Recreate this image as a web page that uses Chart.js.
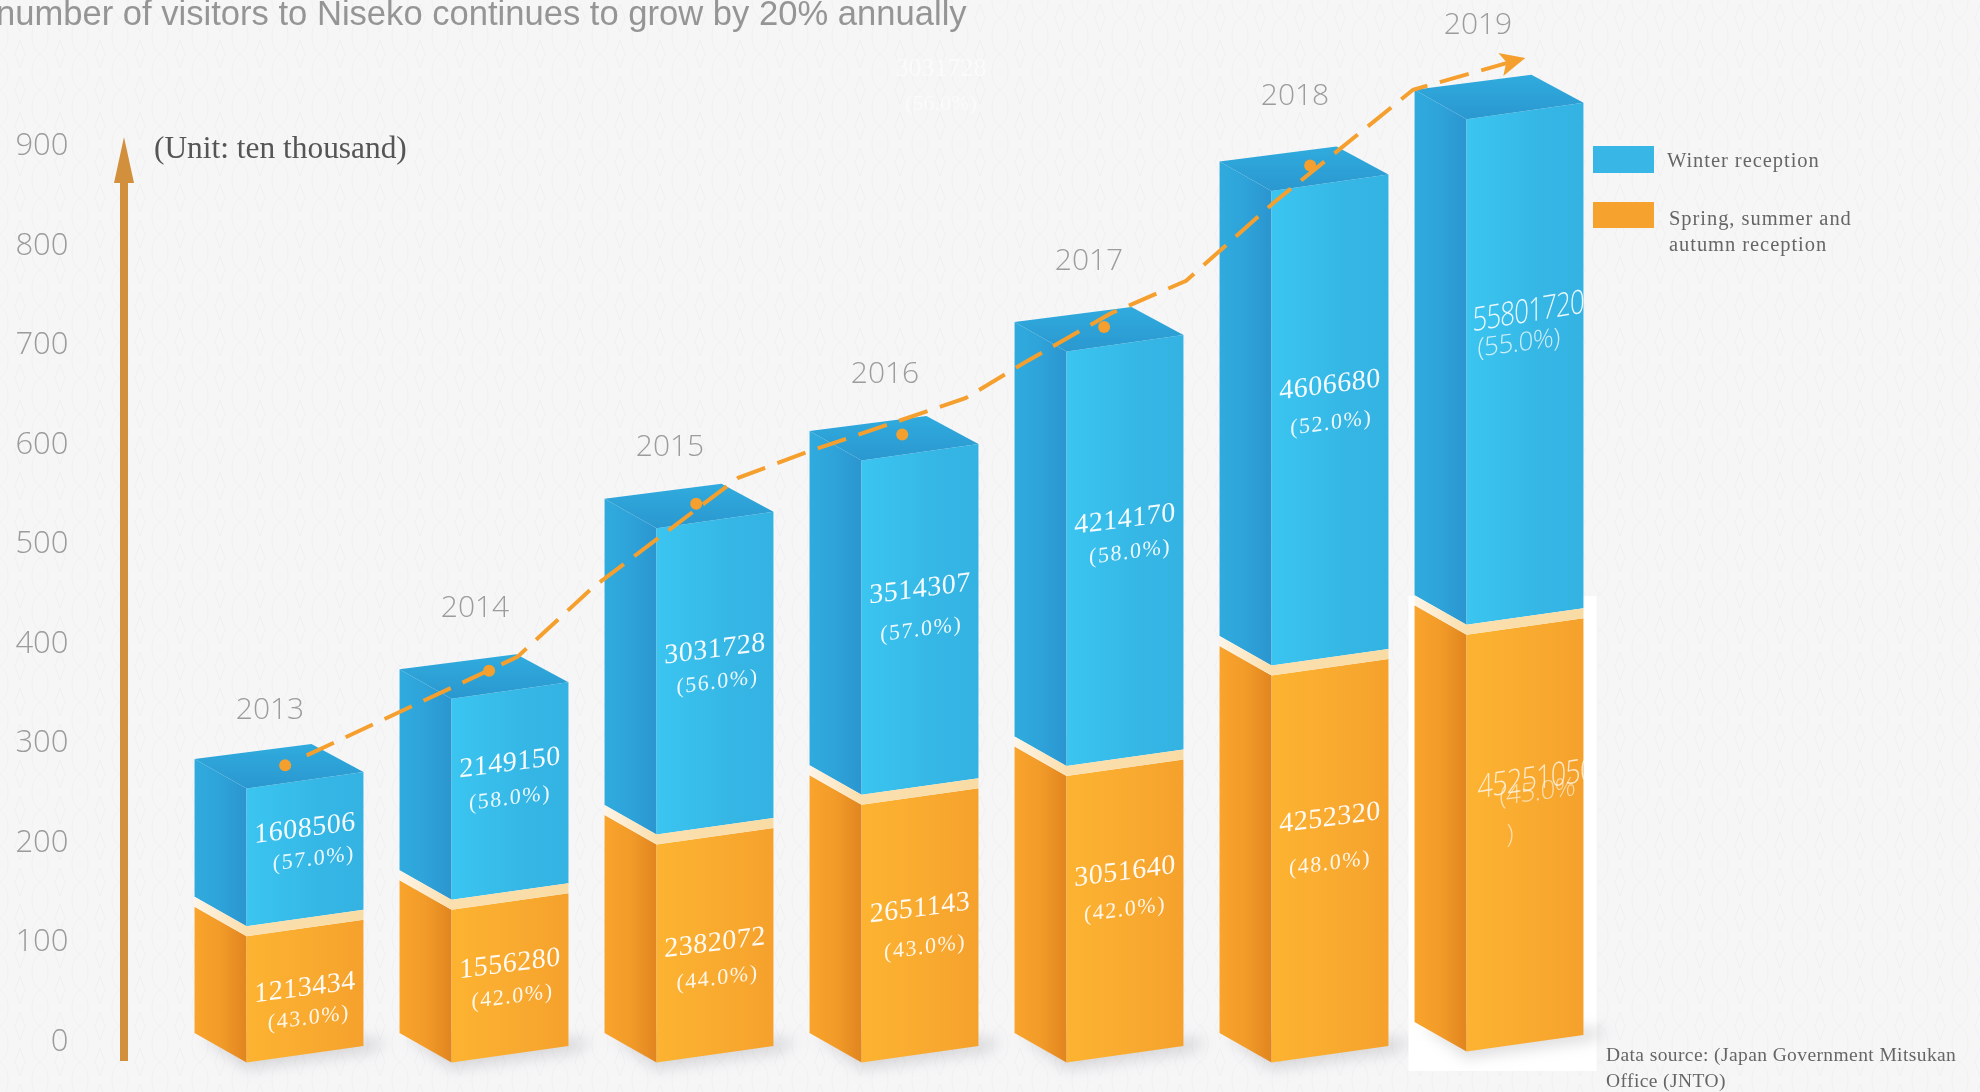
<!DOCTYPE html>
<html><head><meta charset="utf-8">
<style>
html,body{margin:0;padding:0;width:1980px;height:1092px;overflow:hidden;background-color:#f6f6f7;
background-image:url("data:image/svg+xml,%3Csvg xmlns='http://www.w3.org/2000/svg' width='40' height='36'%3E%3Cpath d='M20 4l5 14-5 14-5-14zM0 18c6-4 8-10 8-18M40 18c-6-4-8-10-8-18M0 18c6 4 8 10 8 18M40 18c-6 4-8 10-8 18' fill='none' stroke='%23f0f0f2' stroke-width='1'/%3E%3C/svg%3E");}
canvas{display:block}
</style>
<script src="https://cdn.jsdelivr.net/npm/chart.js@4/dist/chart.umd.js"></script>
</head><body><canvas id="c" width="1980" height="1092"></canvas>
<script>
// ---- data ----
const years = ['2013','2014','2015','2016','2017','2018','2019'];
const yTicksShown = [0,100,200,300,400,500,600,700,800,900];
// drawn block heights on the y axis (ten thousand)
const springHeights = [132,158.6,224,264,293,394,435];
const winterHeights = [148.5,212,318,346,426.5,487,518];
// printed labels
const springLabels = ['1213434','1556280','2382072','2651143','3051640','4252320','45251050'];
const winterLabels = ['1608506','2149150','3031728','3514307','4214170','4606680','55801720'];
const springShares = [43,42,44,43,42,48,45];
const winterShares = [57,58,56,57,58,52,55];
// trend arrow
const trendYears = [2013.135,2014.163,2014.532,2015.24,2015.578,2016.348,2016.655,2017.055,2017.425,2017.855,2018.532,2019.06];
const trendValues = [284,383,453,563,589,643,681,728,761,840,953,984];
const dotYears = [2013.03,2014.025,2015.035,2016.04,2017.025,2018.03];
const dotValues = [274,369,537,606.6,714.5,877];

const titleText = 'number of visitors to Niseko continues to grow by 20% annually';
const unitText = '(Unit: ten thousand)';
const legendWinter = 'Winter reception';
const legendSpring = ['Spring, summer and','autumn reception'];
const sourceLines = ['Data source: (Japan Government Mitsukan','Office (JNTO)'];

// ---- layout constants (pixels), separate from the data ----
const K = 1.2628;
const GEO = {foldDx:52, foldDy:29.5, rightDy:13, backDy:-15, winterLift:10, springLift:5, lastLift:16, lastShift:-10};
const yearNudge = [[-9,-48],[-9,-61],[-19,-51],[-9,-57],[-10,-61],[-9,-65],[-21,-64]];
const winterNumDy = [54,73,118,124,155,176,179].map(v=>v*K+2);
const winterPctDy = [78,101,144,156,181,206,203].map(v=>v*K+2);
const winterPctDx = [7,0,2,1,4,1,-4].map(v=>v*K);
const springNumDy = [63,65,100,104,98,135,144].map(v=>v*K+2);
const springPctDy = [87,91,128,135,128,171,154].map(v=>v*K+2);
const springPctDx = [3,2,2,4,0,0,10].map(v=>v*K);

function geom(el, idx){
  const p = el.getProps(['x','y','base','width'], true);
  const last = idx === years.length-1;
  const l = p.x - p.width/2 + (last?GEO.lastShift:0);
  return {l, f:l+GEO.foldDx, r:l+p.width, cx:p.x+(last?GEO.lastShift:0), y:p.y, base:p.base, last};
}
function hGrad(ctx,x0,x1,stops){const g=ctx.createLinearGradient(x0,0,x1,0);stops.forEach(s=>g.addColorStop(s[0],s[1]));return g;}
function poly(ctx,pts,fill){ctx.beginPath();pts.forEach((q,i)=>i?ctx.lineTo(q[0],q[1]):ctx.moveTo(q[0],q[1]));ctx.closePath();ctx.fillStyle=fill;ctx.fill();}
const springBottom = g => g.base - (g.last?GEO.lastLift:GEO.springLift);

// the library's bar element draws itself as a cuboid
Chart.BarElement.prototype.draw = function(ctx){
  const winter = this.$barKind === 'winter';
  const g = geom(this, this.$barIndex);
  const D = GEO;
  const top = g.y;
  const bot = winter ? g.base - D.winterLift : springBottom(g);
  ctx.save();
  const left = winter ? [[0,'#30abde'],[.5,'#2ea3d9'],[1,'#2b95cf']] : [[0,'#f9a42c'],[.5,'#f29b29'],[1,'#e1851f']];
  const front = winter ? [[0,'#3bc5f1'],[.35,'#38bdea'],[.65,'#35b6e5'],[1,'#34b3e3']] : [[0,'#fdb331'],[.5,'#f9ab30'],[1,'#f5a12c']];
  poly(ctx,[[g.l,top],[g.f,top+D.foldDy],[g.f,bot+D.foldDy],[g.l,bot]],hGrad(ctx,g.l,g.f,left));
  poly(ctx,[[g.f,top+D.foldDy],[g.r,top+D.rightDy],[g.r,bot+D.rightDy],[g.f,bot+D.foldDy]],hGrad(ctx,g.f,g.r,front));
  if(winter){
    const tg=ctx.createLinearGradient(0,top+D.backDy,0,top+D.foldDy);
    tg.addColorStop(0,'#30abde');tg.addColorStop(1,'#2a98d0');
    poly(ctx,[[g.l,top],[g.l+(g.r-g.f),top+D.backDy],[g.r,top+D.rightDy],[g.f,top+D.foldDy]],tg);
  }else{
    // only the cream band that shows between the two blocks
    const L=D.winterLift;
    poly(ctx,[[g.l,top],[g.f,top+D.foldDy],[g.r,top+D.rightDy],[g.r,top+D.rightDy-L],[g.f,top+D.foldDy-L],[g.l,top-L]],
      hGrad(ctx,g.l,g.r,[[0,'#fdf5e8'],[.3,'#fbdfae'],[1,'#f9dca4']]));
  }
  ctx.restore();
};

const overlay = {
  id:'overlay',
  beforeDatasetsDraw(chart){
    const {ctx}=chart, D=GEO;
    chart.data.datasets.forEach((ds,di)=>{
      if(!ds.kind) return;
      chart.getDatasetMeta(di).data.forEach((el,i)=>{el.$barIndex=i;el.$barKind=ds.kind;});
    });
    // white patch behind the last bar and soft ground shadows
    const sm=chart.getDatasetMeta(0);
    sm.data.forEach((el,i)=>{
      const g=geom(el,i), bot=springBottom(g);
      if(g.last){ctx.fillStyle='#ffffff';ctx.fillRect(g.l-6,596,188,475);}
      ctx.save();ctx.filter='blur(7px)';
      poly(ctx,[[g.l+8,bot+4],[g.f,bot+D.foldDy+7],[g.r+8,bot+D.rightDy+6],[g.r+24,bot+D.rightDy-6],[g.f+20,bot]],'rgba(110,110,120,.22)');
      ctx.restore();
    });
  },
  afterDatasetsDraw(chart){
    const {ctx,scales} = chart;
    const springMeta = chart.getDatasetMeta(0), winterMeta = chart.getDatasetMeta(1);
    ctx.save();
    ctx.textBaseline='middle';
    // title
    ctx.textAlign='left';ctx.fillStyle='#959595';ctx.font='34.6px "Liberation Sans"';
    ctx.textBaseline='alphabetic';ctx.fillText(titleText,-4,25);
    ctx.textBaseline='middle';
    // y axis arrow
    const ax=124, ayTop=137, ayBot=scales.y.getPixelForValue(0)+23;
    ctx.fillStyle='#d2903c';ctx.fillRect(ax-4,ayTop+40,8,ayBot-ayTop-40);
    poly(ctx,[[ax,ayTop],[ax+10,ayTop+46],[ax-10,ayTop+46]],'#d2903c');
    // unit
    ctx.fillStyle='#555';ctx.font='31.4px "Liberation Serif"';ctx.fillText(unitText,154,150);
    // trend arrow head at the last trend point
    const n=trendYears.length-1;
    const tx=scales.xTrend.getPixelForValue(trendYears[n]),ty=scales.y.getPixelForValue(trendValues[n]);
    poly(ctx,[[tx+4,ty-1],[tx-23,ty-6],[tx-15,ty+3],[tx-18,ty+17]],'#f5a02e');
    // year labels
    ctx.textAlign='center';ctx.fillStyle='#9c9c9c';ctx.font='300 30px "Open Sans"';
    years.forEach((yr,i)=>{const g=geom(winterMeta.data[i],i);ctx.fillText(yr,g.cx+yearNudge[i][0],g.y+yearNudge[i][1]);});
    // value labels on the front faces
    const put=(txt,x,y,font,ls,alpha,sx=1)=>{ctx.save();ctx.font=font;ctx.letterSpacing=ls;ctx.fillStyle='rgba(255,255,255,'+alpha+')';ctx.transform(sx,-0.13,0,1,x,y);ctx.fillText(txt,0,0);ctx.restore();};
    years.forEach((yr,i)=>{
      const gw=geom(winterMeta.data[i],i), gs=geom(springMeta.data[i],i);
      const fc=gw.f+(gw.r-gw.f)/2;
      const numFont='28px "Liberation Serif"', pctFont='22px "Liberation Serif"';
      if(!gw.last){
        put(winterLabels[i],fc,gw.y+winterNumDy[i],numFont,'0.5px',.95);
        put('('+winterShares[i].toFixed(1)+'%)',fc+winterPctDx[i],gw.y+winterPctDy[i],pctFont,'1.5px',.9);
        put(springLabels[i],fc,gs.y+springNumDy[i],numFont,'0.5px',.95);
        put('('+springShares[i].toFixed(1)+'%)',fc+springPctDx[i],gs.y+springPctDy[i],pctFont,'1.5px',.9);
      }else{
        ctx.save();ctx.beginPath();ctx.rect(gw.f,0,gw.r-gw.f+2,1092);ctx.clip();
        const sans='300 33px "Open Sans"', sans2='300 26px "Open Sans"';
        ctx.textAlign='left';
        put(winterLabels[i],gw.f+6,gw.y+winterNumDy[i]+4,sans,'-1px',.9,0.78);
        put('('+winterShares[i].toFixed(1)+'%)',gw.f+11,gw.y+winterPctDy[i]+1,sans2,'-0.5px',.75);
        put(springLabels[i],gw.f+11,gs.y+springNumDy[i],sans,'-1px',.75,0.82);
        put('('+springShares[i].toFixed(1)+'%',gw.f+33,gs.y+springPctDy[i]-4,sans2,'-0.5px',.6);
        put(')',gw.f+40,gs.y+springPctDy[i]+34,sans2,'0px',.6);
        ctx.restore();
        ctx.textAlign='center';
      }
    });
    // faint ghost label
    ctx.fillStyle='rgba(255,255,255,.55)';
    ctx.font='26px "Liberation Serif"';ctx.fillText(winterLabels[2],941,69);
    ctx.font='22px "Liberation Serif"';ctx.fillText('('+winterShares[2].toFixed(1)+'%)',941,104);
    // legend
    ctx.textAlign='left';
    const lx=1593, lw=61;
    ctx.fillStyle='#38b7e6';ctx.fillRect(lx,146,lw,27);
    ctx.fillStyle='#f6a22f';ctx.fillRect(lx,202,lw,26);
    ctx.fillStyle='#666';ctx.font='20.5px "Liberation Serif"';ctx.letterSpacing='0.95px';
    ctx.fillText(legendWinter,1667,162);
    ctx.fillText(legendSpring[0],1669,220);
    ctx.fillText(legendSpring[1],1669,246);
    // source
    ctx.font='19.5px "Liberation Serif"';ctx.letterSpacing='0.4px';
    ctx.fillText(sourceLines[0],1606,1056);
    ctx.fillText(sourceLines[1],1606,1082);
    ctx.restore();
  }
};

new Chart(document.getElementById('c'),{
  type:'bar',
  data:{labels:years,datasets:[
    {kind:'spring',label:'Spring, summer and autumn reception',data:springHeights,backgroundColor:'#f6a22f',order:1,grouped:false,clip:false,categoryPercentage:0.824,barPercentage:1},
    {kind:'winter',label:'Winter reception',data:winterHeights,backgroundColor:'#38b7e6',order:2,grouped:false,clip:false,categoryPercentage:0.824,barPercentage:1},
    {type:'line',label:'Growth trend',data:trendYears.map((x,i)=>({x,y:trendValues[i]})),xAxisID:'xTrend',borderColor:'#f5a02e',borderWidth:4,borderDash:[30,13],pointRadius:0,tension:0,fill:false,order:0,clip:false},
    {type:'line',label:'Trend points',data:dotYears.map((x,i)=>({x,y:dotValues[i]})),xAxisID:'xTrend',showLine:false,pointRadius:6,pointStyle:'circle',pointBackgroundColor:'#f5a02e',pointBorderColor:'#f5a02e',borderWidth:0,order:0,clip:false}
  ]},
  options:{
    responsive:false,animation:false,
    layout:{padding:{left:0,right:368.5,top:43,bottom:54}},
    plugins:{legend:{display:false},tooltip:{enabled:false},title:{display:false}},
    scales:{
      x:{display:false,stacked:true,grid:{display:false}},
      xTrend:{type:'linear',display:false,offset:false,min:2012.5,max:2019.5,grid:{display:false}},
      y:{stacked:true,min:0,max:1000,position:'left',
        afterFit(s){s.width=176.5;s.paddingTop=0;s.paddingBottom=0;},
        afterBuildTicks(s){s.ticks=yTicksShown.map(v=>({value:v}));},
        grid:{display:false,drawTicks:false},border:{display:false},
        ticks:{padding:108,labelOffset:4,color:'#9b9b9b',font:{family:'"Open Sans"',size:31,weight:300},autoSkip:false,callback:v=>String(v)}
      }
    }
  },
  plugins:[overlay]
});
</script></body></html>
